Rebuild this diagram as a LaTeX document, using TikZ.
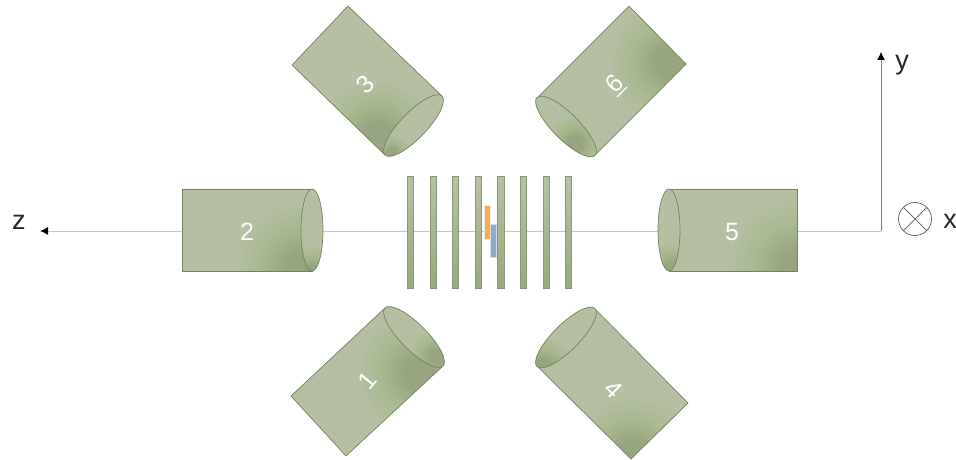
\documentclass[tikz,border=0pt]{standalone}
\usepackage{fontspec}
\setmainfont{Liberation Sans}
\usetikzlibrary{arrows.meta}
\definecolor{cylbase}{HTML}{B5C0A2}
\definecolor{cylmid}{HTML}{A8B98E}
\definecolor{cyldark}{HTML}{97A57F}
\definecolor{cylline}{HTML}{74835F}
\definecolor{platetop}{HTML}{B7C2A5}
\definecolor{platebot}{HTML}{98A97F}
\definecolor{barorange}{HTML}{F4AE5A}
\definecolor{barblue}{HTML}{93A9C8}
\pgfdeclareradialshading{cylglow}{\pgfpoint{0bp}{0bp}}{
  color(0bp)=(cyldark); color(6bp)=(cyldark); color(15bp)=(cylmid); color(25bp)=(cylbase); color(50bp)=(cylbase)}
\tikzset{
  body/.style={fill=cylbase,draw=cylline,line width=0.7pt,line join=round},
  numlabel/.style={text=white,font=\fontsize{25}{25}\selectfont,inner sep=0pt},
  axislabel/.style={text=black!85,font=\fontsize{27}{27}\selectfont,inner sep=0pt},
  plate/.style={top color=platetop,bottom color=platebot,draw=cylline!85,line width=0.9pt},
  beamline/.style={draw=black!22,line width=1pt},
  axisline/.style={draw=black!50,line width=0.8pt},
  tipped/.style={-{Latex[length=8pt,width=8pt,black]}}
}
\newcommand{\cylinder}[9]{%
  \begin{scope}
    \clip #1 -- #2 -- #3 -- #4 -- cycle;
    \fill[cylbase] #1 -- #2 -- #3 -- #4 -- cycle;
    \shade[shading=cylglow] #8 circle (#9pt);
  \end{scope}
  \draw[body,fill=none] #1 -- #2 -- #3 -- #4 -- cycle;
  \fill[cylbase,rotate around={#6:#5}] #5 ellipse [x radius=#7pt,y radius=41pt];
  \cylstore{#5}{#6}{#7}}
\newcommand{\cylstore}[3]{\gdef\cylC{#1}\gdef\cylR{#2}\gdef\cylM{#3}}
\newcommand{\capglow}[2]{%
  \begin{scope}[rotate around={\cylR:\cylC}]
    \clip \cylC ellipse [x radius=\cylM pt,y radius=41pt];
    \begin{scope}[rotate around={-\cylR:\cylC}]
      \shade[shading=cylglow] #1 circle (#2pt);
    \end{scope}
  \end{scope}
  \draw[body,fill=none,rotate around={\cylR:\cylC}] \cylC ellipse [x radius=\cylM pt,y radius=41pt];}
\begin{document}
\begin{tikzpicture}[x=1pt,y=-1pt]
\useasboundingbox (0,0) rectangle (956,460);
\coordinate (zend) at (40,231);
\coordinate (corner) at (881,231);
\coordinate (yend) at (881,52);
\coordinate (cylfive) at (797,231);
\coordinate (cyltwo) at (182,231);
% beam line
\draw[beamline] (cyltwo) -- (cylfive);
\draw[beamline,tipped] (cyltwo) -- (zend);
\draw[beamline] (cylfive) -- (corner);
\draw[axisline,tipped] (corner) -- (yend);
% plates
\foreach \n/\px in {a/410.7,b/433.2,c/455.8,d/478.4,e/501,f/523.6,g/546.2,h/568.8}{
  \node[plate,minimum width=6.2pt,minimum height=112pt,inner sep=0pt,anchor=center] (plate\n) at (\px,232) {};
}
\node[draw=white!75!barorange,fill=barorange,minimum width=6pt,minimum height=34pt,inner sep=0pt,line width=0.6pt] (orangebar) at (486.8,222) {};
\node[draw=white!60!barblue,fill=barblue,minimum width=6pt,minimum height=33pt,inner sep=0pt,line width=0.6pt] (bluebar) at (493,240.5) {};
% cylinder 2
\cylinder{(182,189)}{(182,271)}{(312,271)}{(312,189)}{(312,230)}{0}{11}{(302,268)}{68}
\capglow{(312,272)}{28}
\node[numlabel] (two) at (247,232) {2};
% cylinder 5
\cylinder{(797,189)}{(797,271)}{(669,271)}{(669,189)}{(669,230)}{0}{11}{(797,268)}{70}
\capglow{(672,268)}{26}
\node[numlabel] (five) at (732,232) {5};
% cylinder 3
\cylinder{(348,6)}{(292,65)}{(385,155)}{(442,96)}{(413.5,125.5)}{-44}{13}{(377,136)}{58}
\capglow{(392,152)}{18}
\node[numlabel,rotate=45] (three) at (365,84) {3};
% cylinder 6
\cylinder{(629,6)}{(686,64)}{(595,155)}{(537,98)}{(566,126.5)}{45}{13}{(670,62)}{62}
\capglow{(575,143)}{30}
\node[numlabel,rotate=45] (six) at (615,85) {\makebox[0pt][l]{\rule[-3.5pt]{14pt}{1.2pt}}6};
% cylinder 1
\cylinder{(291,396)}{(346,456)}{(443,366)}{(385,308)}{(414,337)}{45}{13}{(418,372)}{62}
\capglow{(436,356)}{28}
\node[numlabel,rotate=50] (one) at (367,381) {1};
% cylinder 4
\cylinder{(688,403)}{(631,459)}{(537,366)}{(595,309)}{(566,337.5)}{-45}{13}{(632,455)}{60}
\capglow{(543,366)}{30}
\node[numlabel,rotate=-45] (four) at (613,389) {4};
% axis labels
\node[axislabel] (zlabel) at (19,222) {z};
\node[axislabel] (ylabel) at (902,65) {y};
\node[axislabel] (xlabel) at (950,221) {x};
\node[draw=black!65,circle,minimum size=33pt,inner sep=0pt,line width=0.7pt] (xsym) at (915,219) {};
\draw[draw=black!65,line width=0.7pt] (xsym.45) -- (xsym.225) (xsym.135) -- (xsym.315);
\end{tikzpicture}
\end{document}
